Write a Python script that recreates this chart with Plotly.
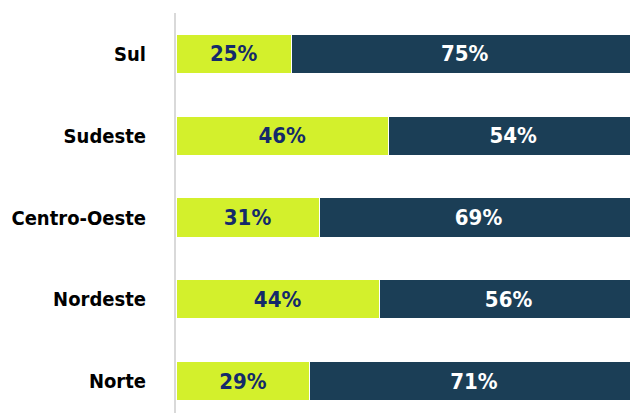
import plotly.graph_objects as go

categories = ["Norte", "Nordeste", "Centro-Oeste", "Sudeste", "Sul"]
share_a = [29, 44, 31, 46, 25]
share_b = [71, 56, 69, 54, 75]

FONT = "DejaVu Sans Condensed, Liberation Sans, Arial"

fig = go.Figure()
fig.add_trace(go.Bar(
    y=categories, x=share_a, orientation="h",
    marker=dict(color="#d3f02c", line=dict(color="white", width=1)),
    text=[f"<b>{v}%</b>" for v in share_a], textposition="inside",
    insidetextanchor="middle",
    textfont=dict(family=FONT, size=22, color="#142a6a"),
    hoverinfo="skip",
))
fig.add_trace(go.Bar(
    y=categories, x=share_b, orientation="h",
    marker=dict(color="#1b3e56", line=dict(color="white", width=1)),
    text=[f"<b>{v}%</b>" for v in share_b], textposition="inside",
    insidetextanchor="middle",
    textfont=dict(family=FONT, size=22, color="white"),
    hoverinfo="skip",
))

# page body has an 8px default margin: shrink the figure so it fills the window
fig.update_layout(
    barmode="stack", bargap=0.52,
    width=630, height=405,
    margin=dict(l=168, r=0, t=5, b=0),
    paper_bgcolor="white", plot_bgcolor="white",
    showlegend=False,
    uniformtext=dict(mode=False),
)
fig.update_xaxes(range=[0, 100], visible=False, automargin=False)
fig.update_yaxes(
    type="category", range=[-0.39, 4.5], automargin=False,
    showline=True, linecolor="#d9d9d9", linewidth=2,
    showgrid=False, ticks="", ticklabelstandoff=24,
    tickfont=dict(family=FONT, size=20, color="black"),
    tickvals=categories, ticktext=[f"<b>{c}</b>" for c in categories],
)
fig.write_html("out.html")
